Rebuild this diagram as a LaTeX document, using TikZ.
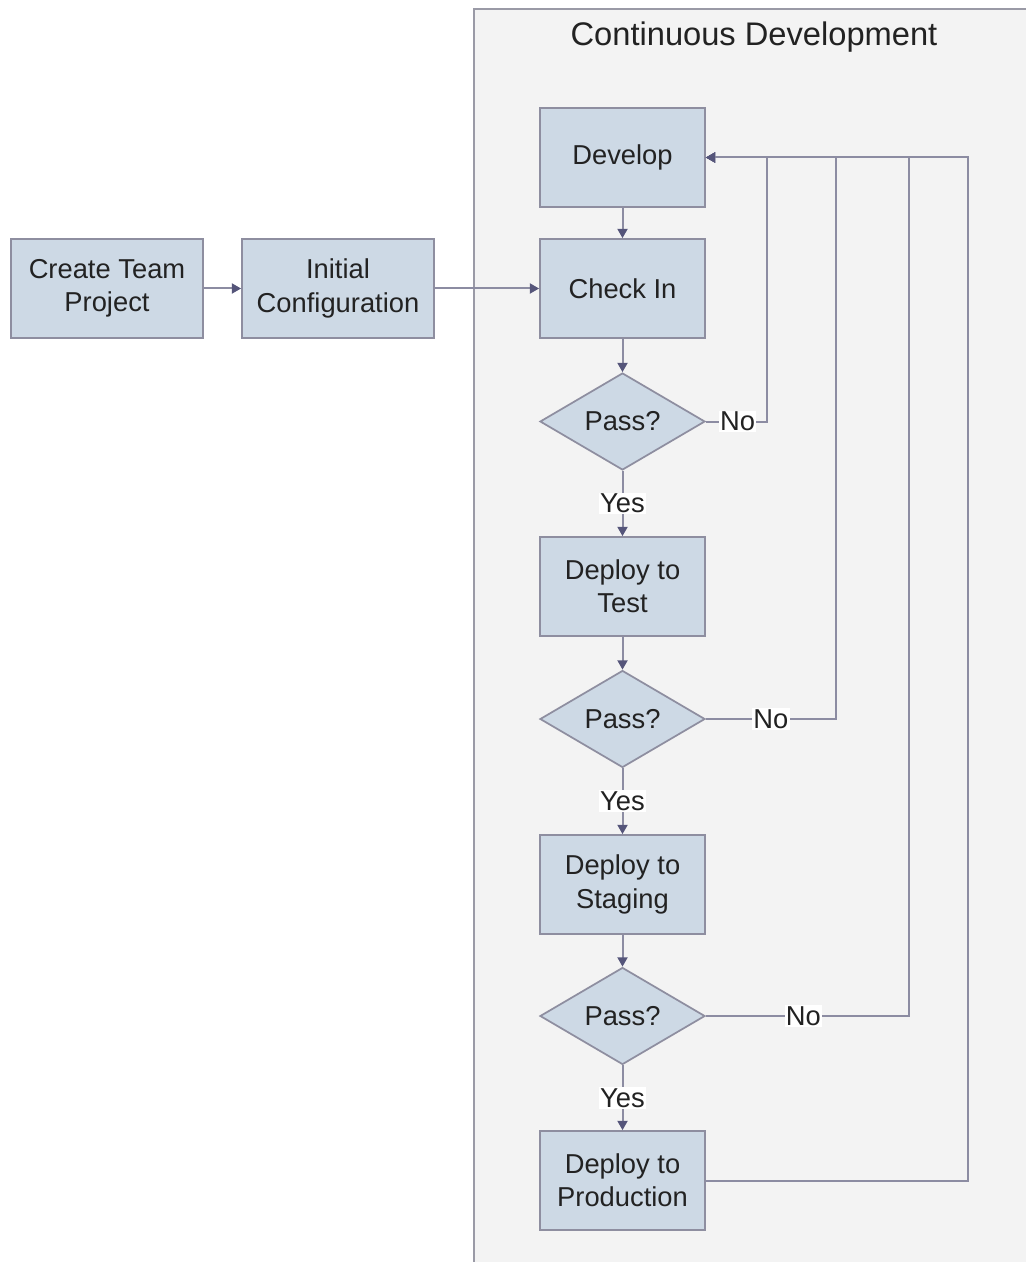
\documentclass[tikz,border=0pt]{standalone}
\usepackage{fontspec}
\setmainfont{Liberation Sans}
\usetikzlibrary{arrows.meta,shapes.geometric}
\definecolor{boxfill}{HTML}{CDD9E5}
\definecolor{boxline}{HTML}{8E8EA0}
\definecolor{wire}{HTML}{8C8CA2}
\definecolor{tipcol}{HTML}{55557A}
\definecolor{panel}{HTML}{F3F3F3}
\definecolor{panelline}{HTML}{9A9AA6}
\definecolor{ink}{HTML}{222222}
\tikzset{
  stepbox/.style={draw=boxline, fill=boxfill, line width=1.3pt, minimum width=123.75pt,
    minimum height=74.25pt, align=center, inner sep=0pt, text=ink,
    font=\fontsize{20.5}{25}\selectfont},
  widebox/.style={stepbox, minimum width=144pt},
  decision/.style={draw=boxline, fill=boxfill, line width=1.3pt, diamond, aspect=1.7,
    minimum width=123.75pt, minimum height=72.75pt, inner sep=0pt, text=ink,
    font=\fontsize{20.5}{25}\selectfont},
  flow/.style={draw=wire, line width=1.5pt, -{Triangle[length=7pt,width=7.5pt,fill=tipcol,color=tipcol]}},
  tag/.style={fill=white, inner sep=1pt, text=ink, font=\fontsize{20.5}{25}\selectfont}
}
\begin{document}
\begin{tikzpicture}[x=0.75pt,y=-0.75pt]
  \useasboundingbox (0,0) rectangle (1025,1262);
  \fill[white] (0,0) rectangle (1025,1262);
  % swim lane for the continuous development loop
  \draw[fill=panel, draw=panelline, line width=1.2pt] (1040,9) -- (474,9) -- (474,1280) -- (1040,1280);
  \node[text=ink, font=\fontsize{24.5}{28}\selectfont] (title) at (754,37) {Continuous Development};

  % setup steps
  \node[widebox] (create) at (107,288.5) {Create Team\\Project};
  \node[widebox] (init) at (338,288.5) {Initial\\Configuration};

  % main pipeline
  \node[stepbox] (dev) at (622.5,157.5) {Develop};
  \node[stepbox] (checkin) at (622.5,288.5) {Check In};
  \node[decision] (p1) at (622.5,421.5) {Pass?};
  \node[stepbox] (test) at (622.5,586.5) {Deploy to\\Test};
  \node[decision] (p2) at (622.5,719) {Pass?};
  \node[stepbox] (stage) at (622.5,884.5) {Deploy to\\Staging};
  \node[decision] (p3) at (622.5,1016) {Pass?};
  \node[stepbox] (prod) at (622.5,1180.5) {Deploy to\\Production};

  % return points of the feedback loops
  \coordinate (r1) at (767,157.5);
  \coordinate (r2) at (836,157.5);
  \coordinate (r3) at (909,157.5);
  \coordinate (r4) at (968,157.5);

  \draw[flow] (create) -- (init);
  \draw[flow] (init) -- (checkin);
  \draw[flow] (dev) -- (checkin);
  \draw[flow] (checkin) -- (p1);
  \draw[flow] (p1) -- node[tag] {Yes} (test);
  \draw[flow] (test) -- (p2);
  \draw[flow] (p2) -- node[tag] {Yes} (stage);
  \draw[flow] (stage) -- (p3);
  \draw[flow] (p3) -- node[tag] {Yes} (prod);

  \draw[flow] (prod.east) -| (r4) -- (dev.east);
  \draw[flow] (p3.east) -| node[tag, pos=0.24] {No} (r3) -- (dev.east);
  \draw[flow] (p2.east) -| node[tag, pos=0.25] {No} (r2) -- (dev.east);
  \draw[flow] (p1.east) -| node[tag, pos=0.26] {No} (r1) -- (dev.east);
\end{tikzpicture}
\end{document}
